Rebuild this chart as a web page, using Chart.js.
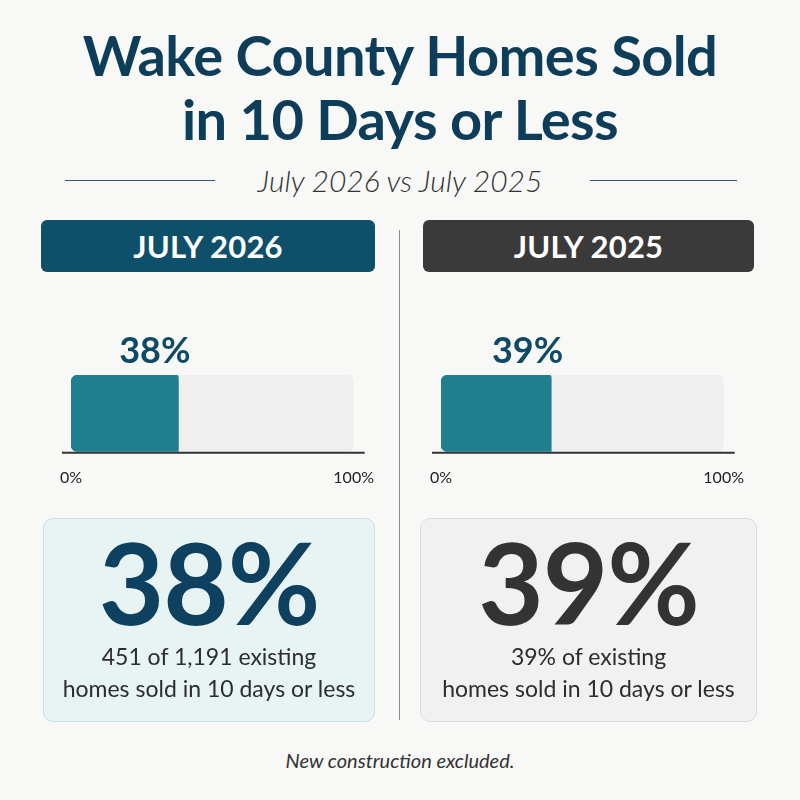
<!DOCTYPE html>
<html>
<head>
<meta charset="utf-8">
<script src="https://cdn.jsdelivr.net/npm/chart.js@4.4.1/dist/chart.umd.min.js"></script>
<style>
  html, body { margin:0; padding:0; }
  body { width:800px; height:800px; background:#f8f8f7; position:relative; overflow:hidden;
         font-family: Lato, "Open Sans", "DejaVu Sans", sans-serif; }
  .abs { position:absolute; }
  #title { left:0; width:800px; top:23px; text-align:center; color:#0d3d58; font-weight:700;
           font-size:56px; line-height:64px; letter-spacing:-0.6px; }
  #subtitle { left:0; width:800px; top:162px; text-align:center; color:#333; font-style:italic;
              font-size:30px; line-height:36px; font-weight:300; }
  .rule { height:0; border-top:1.6px solid #2f5670; top:180px; }
  .hdr { top:220px; height:52px; border-radius:6px; color:#fff; font-weight:700; font-size:31px;
         line-height:52px; text-align:center; letter-spacing:0.2px; }
  #divider { left:399px; top:230px; width:0; height:490px; border-left:1.5px solid #8a8a8a; }
  .card { top:518px; height:204px; border-radius:10px; box-sizing:border-box; }
  .big { position:absolute; left:0; right:0; top:9px; text-align:center; font-weight:700;
         font-size:113px; line-height:106px; letter-spacing:-1px; }
  .cap { position:absolute; left:0; right:0; top:121px; text-align:center; font-size:23px;
         line-height:32px; color:#2d2d2d; }
  #foot { left:0; width:800px; top:748px; text-align:center; font-style:italic; font-size:20px; color:#333; }
  .chartbox { top:320px; height:195px; }
</style>
</head>
<body>
<div id="title" class="abs">Wake County Homes Sold<br>in 10 Days or Less</div>
<div class="abs rule" style="left:65px; width:150px;"></div>
<div class="abs rule" style="left:590px; width:147px;"></div>
<div id="subtitle" class="abs"></div>

<div id="hdr0" class="abs hdr" style="left:41px; width:334px; background:#0e4f6a;"></div>
<div id="hdr1" class="abs hdr" style="left:423px; width:331px; background:#3a3a3a;"></div>
<div id="divider" class="abs"></div>

<div class="abs chartbox" style="left:40px; width:350px;"><canvas id="c0"></canvas></div>
<div class="abs chartbox" style="left:410px; width:350px;"><canvas id="c1"></canvas></div>

<div class="abs card" style="left:43px; width:332px; background:#e8f3f4; border:1.5px solid #c8e1e3;">
  <div id="big0" class="big" style="color:#0e4060;"></div>
  <div id="cap0" class="cap"></div>
</div>
<div class="abs card" style="left:420px; width:337px; background:#f1f1f1; border:1.5px solid #dcdcdc;">
  <div id="big1" class="big" style="color:#333;"></div>
  <div id="cap1" class="cap"></div>
</div>

<div id="foot" class="abs"></div>

<script>
// ---- data ----
const periods = ['JULY 2026', 'JULY 2025'];
const periodNames = ['July 2026', 'July 2025'];
const sharePct = [38, 39];              // % of existing homes sold in 10 days or less
const soldFast = [451, null];           // homes sold in <=10 days
const totalExisting = [1191, null];     // existing homes sold
const tickValues = [0, 100];
const footnote = 'New construction excluded.';

// ---- text ----
document.getElementById('subtitle').textContent = periodNames[0] + ' vs ' + periodNames[1];
periods.forEach((p, i) => {
  document.getElementById('hdr' + i).textContent = p;
  document.getElementById('big' + i).textContent = sharePct[i] + '%';
  const first = (soldFast[i] != null)
    ? soldFast[i].toLocaleString('en-US') + ' of ' + totalExisting[i].toLocaleString('en-US') + ' existing'
    : sharePct[i] + '% of existing';
  document.getElementById('cap' + i).innerHTML = first + '<br>homes sold in 10 days or less';
});
document.getElementById('foot').textContent = footnote;

// ---- charts ----
const fillColor = '#1f7f8f';
const restColor = '#efefef';
const labelColors = ['#0e4a66', '#0e4a66'];

const overlay = {
  id: 'overlay',
  afterDatasetsDraw(chart) {
    const ctx = chart.ctx, a = chart.chartArea, xs = chart.scales.x;
    const v = chart.data.datasets[0].data[0];
    ctx.save();
    // baseline
    ctx.strokeStyle = '#333';
    ctx.lineWidth = 2;
    ctx.beginPath();
    ctx.moveTo(a.left - 9, a.bottom + 1);
    ctx.lineTo(a.right + 11, a.bottom + 1);
    ctx.stroke();
    // value label above the bar
    ctx.fillStyle = chart.options.plugins.overlay.color;
    ctx.font = '700 36px Lato, "Open Sans", sans-serif';
    ctx.textAlign = 'right';
    ctx.textBaseline = 'alphabetic';
    ctx.fillText(v + '%', xs.getPixelForValue(v) + 12, a.top - 12);
    ctx.restore();
  }
};

function makeChart(id, i) {
  return new Chart(document.getElementById(id), {
    type: 'bar',
    data: {
      labels: [periods[i]],
      datasets: [
        { data: [sharePct[i]], backgroundColor: fillColor, borderSkipped: false,
          borderRadius: { topLeft: 7, bottomLeft: 7, topRight: 3, bottomRight: 0 } },
        { data: [100 - sharePct[i]], backgroundColor: restColor, borderSkipped: false,
          borderRadius: { topLeft: 0, bottomLeft: 0, topRight: 7, bottomRight: 7 } }
      ]
    },
    options: {
      indexAxis: 'y',
      responsive: true,
      maintainAspectRatio: false,
      animation: false,
      layout: { padding: { left: 31, right: 33, top: 55, bottom: 12 } },
      scales: {
        x: {
          stacked: true, min: 0, max: 100,
          afterBuildTicks: (s) => { s.ticks = tickValues.map(v => ({ value: v })); },
          grid: { display: false, drawTicks: false },
          border: { display: false },
          ticks: { padding: 16, color: '#222', font: { size: 16, family: 'Lato, "Open Sans", sans-serif' },
                   callback: (v) => v + '%', maxRotation: 0, autoSkip: false }
        },
        y: { stacked: true, display: false }
      },
      datasets: { bar: { barPercentage: 1, categoryPercentage: 1 } },
      plugins: { legend: { display: false }, tooltip: { enabled: false },
                 overlay: { color: labelColors[i] } }
    },
    plugins: [overlay]
  });
}
makeChart('c0', 0);
makeChart('c1', 1);
</script>
</body>
</html>
